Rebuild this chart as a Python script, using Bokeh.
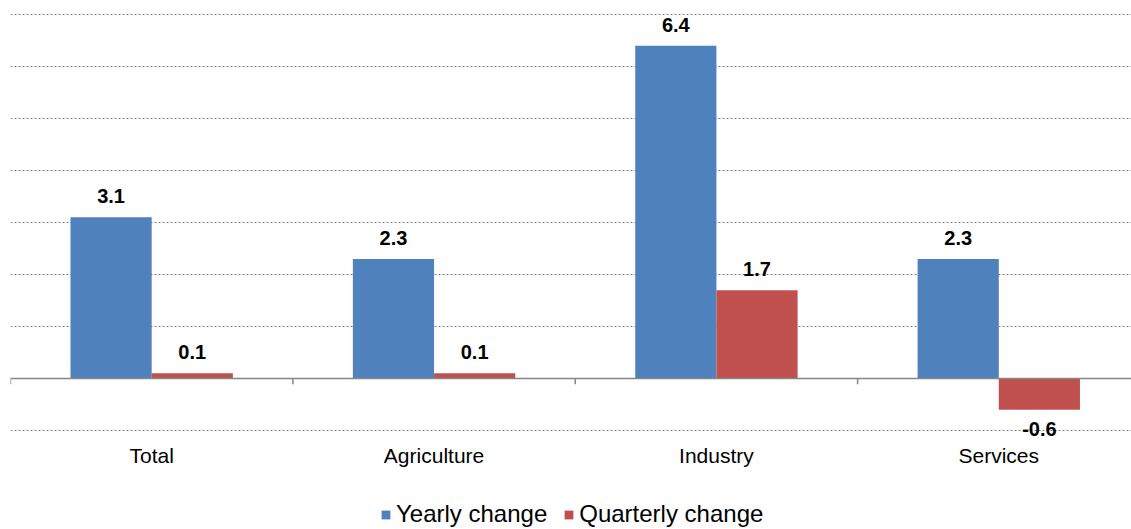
import numpy as np
from bokeh.plotting import figure
from bokeh.models import (Range1d, FixedTicker, Span, ColumnDataSource, Legend, LegendItem)
from bokeh.core.properties import value
from bokeh.embed import file_html
from bokeh.resources import INLINE

categories = ["Total", "Agriculture", "Industry", "Services"]
yearly = [3.1, 2.3, 6.4, 2.3]
quarterly = [0.1, 0.1, 1.7, -0.6]
series_names = ["Yearly change", "Quarterly change"]
grid_ticks = [-1, 0, 1, 2, 3, 4, 5, 6, 7]

BLUE = "#4F81BD"
RED = "#C0504D"
FONT = "Liberation Sans"

p = figure(width=1131, height=529, output_backend="svg", toolbar_location=None,
           x_range=Range1d(0, 3.97), y_range=Range1d(-2.903, 7.02),
           min_border_left=10, min_border_right=0, min_border_top=13, min_border_bottom=0)
p.outline_line_color = None
p.background_fill_color = "white"
p.xaxis.visible = False
p.yaxis.visible = False
p.xgrid.visible = False
p.ygrid.ticker = FixedTicker(ticks=grid_ticks)
p.ygrid.grid_line_color = "#7f7f7f"
p.ygrid.grid_line_dash = "2 2"
p.ygrid.grid_line_width = 1

idx = np.arange(len(categories)) + 0.5
bw = 0.2875
x_blue = idx - bw / 2
x_red = idx + bw / 2

src_y = ColumnDataSource(dict(x=x_blue, top=yearly))
src_q = ColumnDataSource(dict(x=x_red, top=quarterly))
r_y = p.vbar(x="x", top="top", bottom=0, width=bw, source=src_y, fill_color=BLUE, line_color=None)
r_q = p.vbar(x="x", top="top", bottom=0, width=bw, source=src_q, fill_color=RED, line_color=None)

# zero axis line with category boundary ticks
p.add_layout(Span(location=0, dimension="width", line_color="#868686", line_width=1.5))
bounds = np.arange(len(categories) + 1)
p.segment(x0=bounds, y0=np.zeros(len(bounds)), x1=bounds, y1=np.full(len(bounds), -0.11),
          line_color="#868686", line_width=1.5)

# data labels
all_x = np.concatenate([x_blue, x_red])
all_v = np.array(yearly + quarterly)
lab = ColumnDataSource(dict(
    x=all_x, y=all_v, t=[f"{v:.1f}" for v in all_v],
    base=["bottom" if v >= 0 else "top" for v in all_v],
    off=[-14 if v >= 0 else 12 for v in all_v]))
p.text(x="x", y="y", text="t", source=lab, text_align="center", text_baseline="base",
       y_offset="off", text_font=value(FONT), text_font_style="bold", text_font_size="20px",
       text_color="#000000")

# category labels under the -1 gridline
cat_src = ColumnDataSource(dict(x=idx, y=np.full(len(idx), -1.0), t=categories))
p.text(x="x", y="y", text="t", source=cat_src, text_align="center", text_baseline="top",
       y_offset=13, text_font=value(FONT), text_font_size="21px", text_color="#000000")

legend = Legend(items=[LegendItem(label=series_names[0], renderers=[r_y]),
                       LegendItem(label=series_names[1], renderers=[r_q])],
                orientation="horizontal", location=(370, 1),
                label_text_font=FONT, label_text_font_size="24px", label_text_color="#000000",
                glyph_width=11, glyph_height=11, label_standoff=5, spacing=16,
                border_line_color=None, background_fill_alpha=0, margin=0, padding=0)
p.add_layout(legend)

open("out.html", "w").write(file_html(p, INLINE))
